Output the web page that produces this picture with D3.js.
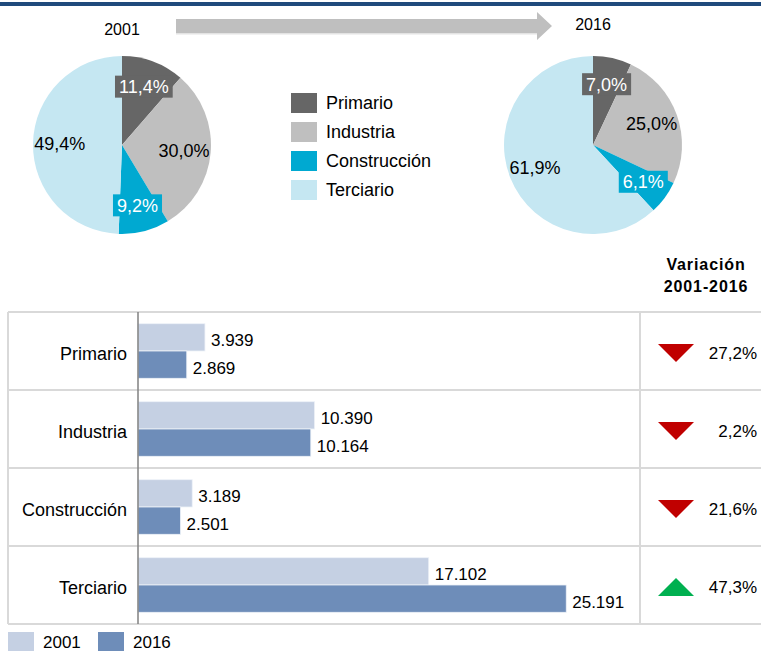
<!DOCTYPE html>
<html>
<head>
<meta charset="utf-8">
<script src="https://cdn.jsdelivr.net/npm/d3@7"></script>
<style>
  html, body { margin: 0; padding: 0; background: #ffffff; }
  svg { display: block; font-family: "Liberation Sans", Arial, sans-serif; }
</style>
</head>
<body>
<svg id="chart" width="761" height="651"></svg>
<script>
// Employment by sector, 2001 vs 2016
const sectors = ["Primario", "Industria", "Construcción", "Terciario"];
const years = ["2001", "2016"];
const share2001 = [11.4, 30.0, 9.2, 49.4];
const share2016 = [7.0, 25.0, 6.1, 61.9];
const workers2001 = [3939, 10390, 3189, 17102];
const workers2016 = [2869, 10164, 2501, 25191];
const variation = [-27.2, -2.2, -21.6, 47.3];
const variationTitle = ["Variación", "2001-2016"];

const sectorColors = ["#666666", "#bfbfbf", "#00a9d1", "#c5e7f2"];
const sectorLabelInk = ["#ffffff", "#000000", "#ffffff", "#000000"];
const sectorLabelBox = [true, false, true, false];
const yearColors = ["#c5d0e3", "#6e8db9"];

const es = d3.formatLocale({ decimal: ",", thousands: ".", grouping: [3], currency: ["", " €"] });
const fmtInt = es.format(",d");
const fmtPct = v => es.format(".1f")(v) + "%";

const svg = d3.select("#chart");
const W = 761;

// header rule
svg.append("rect").attr("x", 0).attr("y", 2).attr("width", W).attr("height", 4).attr("fill", "#1f4a7c");

// arrow from 2001 to 2016
svg.append("rect").attr("x", 176).attr("y", 33).attr("width", 361).attr("height", 1.5).attr("fill", "#e3e3e3");
svg.append("path")
  .attr("d", d3.line()([[176, 19], [537, 19], [537, 12], [552, 26], [537, 40], [537, 33], [176, 33]]) + "Z")
  .attr("fill", "#bfbfbf");

// ---- pies ----
const R = 89;
const pie = d3.pie().sort(null).value(d => d);
const arc = d3.arc().innerRadius(0).outerRadius(R);
const labelArc = d3.arc().innerRadius(R * 0.7).outerRadius(R * 0.7);

function drawPie(cx, cy, values, year, yearY) {
  const g = svg.append("g").attr("transform", `translate(${cx},${cy})`);
  const arcs = pie(values);
  g.selectAll("path.slice").data(arcs).join("path")
    .attr("class", "slice")
    .attr("d", arc)
    .attr("fill", (d, i) => sectorColors[i]);

  const lab = g.selectAll("g.lab").data(arcs).join("g")
    .attr("class", "lab")
    .attr("transform", d => `translate(${labelArc.centroid(d)})`);
  lab.each(function (d, i) {
    const sel = d3.select(this);
    const t = sel.append("text")
      .attr("text-anchor", "middle")
      .attr("dy", "0.36em")
      .attr("font-family", "'Liberation Sans Narrow', 'Arial Narrow', 'Liberation Sans', sans-serif")
      .attr("font-size", 18)
      .attr("fill", sectorLabelInk[i])
      .text(fmtPct(d.value));
    if (sectorLabelBox[i]) {
      const bb = t.node().getBBox();
      sel.insert("rect", "text")
        .attr("x", bb.x - 4).attr("y", -11)
        .attr("width", bb.width + 8).attr("height", 22)
        .attr("fill", sectorColors[i]);
    }
  });

  svg.append("text")
    .attr("x", cx).attr("y", yearY)
    .attr("text-anchor", "middle")
    .attr("font-size", 16)
    .attr("fill", "#000")
    .text(year);
}
drawPie(122, 145, share2001, years[0], 35);
drawPie(593, 145, share2016, years[1], 30);

// pie legend
const leg = svg.append("g").attr("transform", "translate(291,93)");
const legRow = leg.selectAll("g").data(sectors).join("g")
  .attr("transform", (d, i) => `translate(0,${i * 29})`);
legRow.append("rect").attr("width", 26).attr("height", 20).attr("fill", (d, i) => sectorColors[i]);
legRow.append("text").attr("x", 35).attr("y", 10).attr("dy", "0.36em")
  .attr("font-size", 18).attr("fill", "#000").text(d => d);

// ---- table with bars ----
const tTop = 312, tBottom = 624, tLeft = 8, colSep = 640, axisX = 138;
const gridColor = "#d9d9d9";

const y = d3.scaleBand().domain(sectors).range([tTop, tBottom]).paddingInner(0.3).paddingOuter(0.15);
const yRow = d3.scaleBand().domain(sectors).range([tTop, tBottom]);
const ySub = d3.scaleBand().domain(years).range([0, y.bandwidth()]);
const x = d3.scaleLinear().domain([0, 30000]).range([axisX, axisX + 510]);

const grid = svg.append("g");
// horizontal lines
const hLines = sectors.map(s => yRow(s)).concat([tBottom]);
grid.selectAll("line.h").data(hLines).join("line")
  .attr("class", "h")
  .attr("x1", tLeft).attr("x2", W)
  .attr("y1", d => d).attr("y2", d => d)
  .attr("stroke", gridColor).attr("stroke-width", 2);
grid.append("line").attr("x1", tLeft).attr("x2", tLeft).attr("y1", tTop).attr("y2", tBottom)
  .attr("stroke", gridColor).attr("stroke-width", 2);
grid.append("line").attr("x1", colSep).attr("x2", colSep).attr("y1", tTop).attr("y2", tBottom)
  .attr("stroke", gridColor).attr("stroke-width", 2);

const series = [workers2001, workers2016];
const barG = svg.append("g");
sectors.forEach((s, i) => {
  years.forEach((yr, k) => {
    const v = series[k][i];
    barG.append("rect")
      .attr("x", x(0))
      .attr("y", y(s) + ySub(yr))
      .attr("width", x(v) - x(0))
      .attr("height", ySub.bandwidth())
      .attr("fill", yearColors[k])
      .attr("stroke", "#eef2f8").attr("stroke-width", 0.8);
    barG.append("text")
      .attr("x", x(v) + 6)
      .attr("y", y(s) + ySub(yr) + ySub.bandwidth() / 2 + 3)
      .attr("dy", "0.36em")
      .attr("font-size", 17).attr("fill", "#000")
      .text(fmtInt(v));
  });
});

// category axis
const yAxis = d3.axisLeft(yRow).tickSize(0).tickPadding(11);
const ax = svg.append("g").attr("transform", `translate(${axisX},0)`).call(yAxis);
ax.select(".domain").remove();
ax.selectAll("text").attr("font-size", 18).attr("fill", "#000")
  .attr("font-family", "'Liberation Sans', Arial, sans-serif").attr("dy", "0.5em");
svg.append("line").attr("x1", axisX).attr("x2", axisX).attr("y1", tTop).attr("y2", tBottom)
  .attr("stroke", "#808080").attr("stroke-width", 1.5);

// variation column
const vG = svg.append("g");
vG.selectAll("text.title").data(variationTitle).join("text")
  .attr("class", "title")
  .attr("x", 706).attr("y", (d, i) => 270 + i * 22)
  .attr("text-anchor", "middle")
  .attr("font-size", 16).attr("font-weight", "bold").attr("letter-spacing", 0.9)
  .attr("fill", "#000").text(d => d);

sectors.forEach((s, i) => {
  const cy = yRow(s) + yRow.bandwidth() / 2 + 2;
  const v = variation[i];
  const tri = v < 0
    ? [[658, cy - 9], [694, cy - 9], [676, cy + 9]]
    : [[658, cy + 9], [694, cy + 9], [676, cy - 9]];
  vG.append("path").attr("d", d3.line()(tri) + "Z")
    .attr("fill", v < 0 ? "#c00000" : "#00b050");
  vG.append("text")
    .attr("x", 757).attr("y", cy).attr("dy", "0.36em")
    .attr("text-anchor", "end")
    .attr("font-size", 17).attr("fill", "#000")
    .text(fmtPct(Math.abs(v)));
});

// year legend
const yl = svg.append("g");
const ylItems = [{ x: 8, t: years[0], c: yearColors[0] }, { x: 98, t: years[1], c: yearColors[1] }];
ylItems.forEach(d => {
  yl.append("rect").attr("x", d.x).attr("y", 632).attr("width", 26).attr("height", 20).attr("fill", d.c);
  yl.append("text").attr("x", d.x + 35).attr("y", 648).attr("font-size", 17).attr("fill", "#000").text(d.t);
});
</script>
</body>
</html>
